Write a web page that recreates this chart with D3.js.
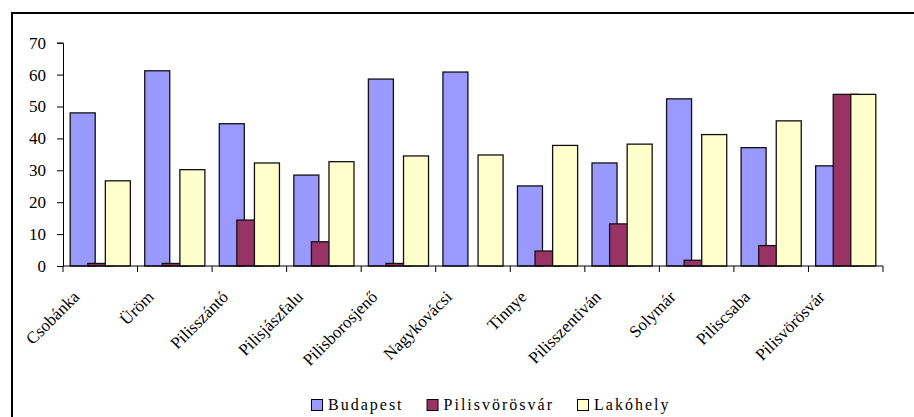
<!DOCTYPE html>
<html>
<head>
<meta charset="utf-8">
<script src="https://cdn.jsdelivr.net/npm/d3@7"></script>
<style>
  html, body { margin: 0; padding: 0; background: #fff; }
  svg { display: block; }
  text { font-family: "Liberation Serif", "Times New Roman", "DejaVu Serif", serif; fill: #000; }
</style>
</head>
<body>
<svg id="chart" width="914" height="417"></svg>
<script>
const categories = ["Csobánka", "Üröm", "Pilisszántó", "Pilisjászfalu", "Pilisborosjenő", "Nagykovácsi", "Tinnye", "Pilisszentiván", "Solymár", "Piliscsaba", "Pilisvörösvár"];
const seriesNames = ["Budapest", "Pilisvörösvár", "Lakóhely"];
const budapest = [48, 61.2, 44.6, 28.5, 58.6, 60.8, 25.1, 32.3, 52.4, 37.1, 31.4];
const pilisvorosvar = [0.8, 0.8, 14.4, 7.6, 0.8, 0, 4.7, 13.2, 1.8, 6.4, 53.8];
const lakohely = [26.7, 30.2, 32.3, 32.7, 34.5, 34.8, 37.8, 38.2, 41.2, 45.5, 53.8];
const yTicks = [0, 10, 20, 30, 40, 50, 60, 70];
const colors = ["#9999FF", "#993366", "#FFFFCC"];

const series = [budapest, pilisvorosvar, lakohely];
const FONT = '"Liberation Serif", "Times New Roman", "DejaVu Serif", serif';

const svg = d3.select("#chart");

// outer frame (right and bottom edges fall outside the picture)
svg.append("rect")
  .attr("x", 12).attr("y", 13)
  .attr("width", 1000).attr("height", 1000)
  .attr("fill", "none").attr("stroke", "#000").attr("stroke-width", 2);

const plotLeft = 63, plotRight = 883, plotTop = 42.7, plotBottom = 266;

const x = d3.scaleBand().domain(categories).range([plotLeft, plotRight]).paddingInner(0).paddingOuter(0);
const y = d3.scaleLinear().domain([0, 70]).range([plotBottom, plotTop]);

const bw = x.bandwidth();
const groupPad = 7.2;
const barW = 25;
const step = (bw - 2 * groupPad - barW) / 2;

const g = svg.append("g");
series.forEach((vals, si) => {
  g.selectAll(".s" + si)
    .data(vals.map((v, i) => ({ v, c: categories[i] })))
    .join("rect")
    .attr("x", d => x(d.c) + groupPad + si * step)
    .attr("y", d => y(d.v))
    .attr("width", barW)
    .attr("height", d => y(0) - y(d.v))
    .attr("fill", colors[si])
    .attr("stroke", "#111")
    .attr("stroke-width", 1.3);
});

// Y axis
const yAxis = d3.axisLeft(y).tickValues(yTicks).tickSize(6).tickPadding(11).tickFormat(d3.format("d"));
const ya = svg.append("g").attr("transform", `translate(${plotLeft},0)`).call(yAxis)
  .attr("font-family", FONT);
ya.select(".domain").attr("stroke", "#000").attr("stroke-width", 1);
ya.selectAll(".tick line").attr("stroke", "#000");
ya.selectAll(".tick text").style("font-family", FONT).style("font-size", "17px").attr("fill", "#000");

// X axis baseline and boundary ticks
const xa = svg.append("g");
xa.append("line").attr("x1", plotLeft).attr("x2", plotRight).attr("y1", plotBottom).attr("y2", plotBottom).attr("stroke", "#000");
const bounds = categories.map(c => x(c)).concat([plotRight]);
xa.selectAll(".bt").data(bounds).join("line")
  .attr("x1", d => d).attr("x2", d => d)
  .attr("y1", plotBottom).attr("y2", plotBottom + 6)
  .attr("stroke", "#000");

// X labels rotated -45
xa.selectAll(".xl").data(categories).join("text")
  .attr("transform", c => `translate(${x(c) + bw / 2 - 20},${plotBottom + 32}) rotate(-45)`)
  .attr("text-anchor", "end")
  .style("font-family", FONT)
  .style("font-size", "17px")
  .text(c => c);

// Legend
const leg = svg.append("g");
let lx = 311;
const ly = 399;
seriesNames.forEach((name, i) => {
  leg.append("rect").attr("x", lx + 0.5).attr("y", ly + 0.5).attr("width", 11).attr("height", 11)
    .attr("fill", colors[i]).attr("stroke", "#000").attr("stroke-width", 1);
  const t = leg.append("text").attr("x", lx + 17).attr("y", ly + 11)
    .style("font-family", FONT)
    .style("font-size", "16px").style("letter-spacing", "2px").text(name);
  const w = t.node().getComputedTextLength();
  lx = lx + 17 + w + 23;
});
</script>
</body>
</html>
